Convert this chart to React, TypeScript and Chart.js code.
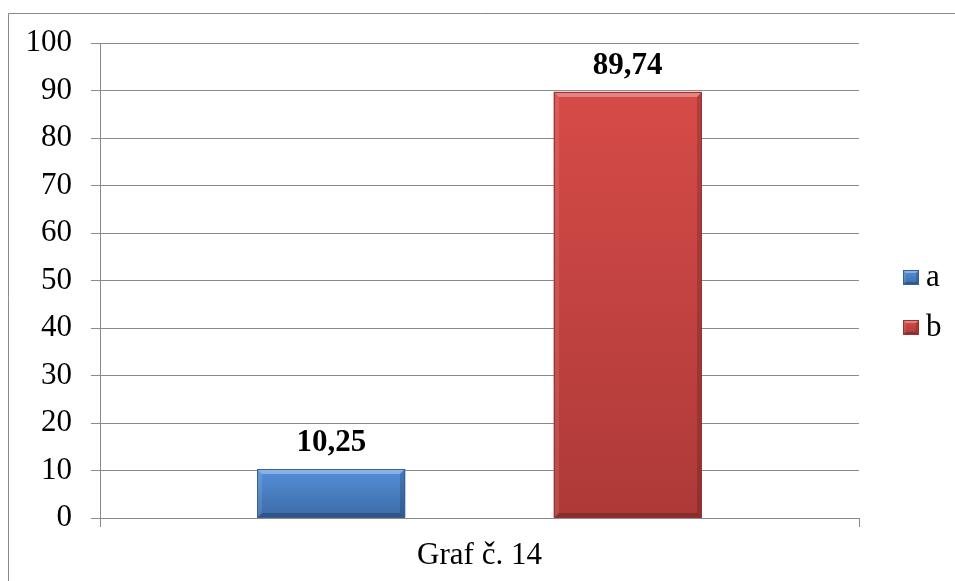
import React, { useEffect, useRef } from 'react';
import { Chart, registerables } from 'chart.js';

Chart.register(...registerables);

const categories = ['Graf č. 14'];
const seriesNames = ['a', 'b'];
const valuesA = [10.25];
const valuesB = [89.74];
const yMin = 0;
const yMax = 100;
const yStep = 10;

const FONT = '"Liberation Serif", "Times New Roman", serif';
const GRID = '#8a8a8a';
const MID = ['#4a7ec4', '#c84543'];
const TOP = ['#5590d8', '#d64b48'];
const BOTTOM = ['#3d6aa8', '#ad3a38'];
const EDGE = ['#35609a', '#9a3331'];

function fmt(v: number) {
  return v.toFixed(2).replace('.', ',');
}

function drawBevelRect(ctx: CanvasRenderingContext2D, l: number, t: number, r: number, b: number, di: number, s: number) {
  const g = ctx.createLinearGradient(0, t, 0, b);
  g.addColorStop(0, TOP[di]);
  g.addColorStop(1, BOTTOM[di]);
  ctx.fillStyle = g;
  ctx.fillRect(l, t, r - l, b - t);
  ctx.fillStyle = 'rgba(255,255,255,0.32)';
  ctx.beginPath();
  ctx.moveTo(l, t); ctx.lineTo(r, t); ctx.lineTo(r - s, t + s); ctx.lineTo(l + s, t + s); ctx.closePath();
  ctx.fill();
  ctx.fillStyle = 'rgba(255,255,255,0.10)';
  ctx.beginPath();
  ctx.moveTo(l, t); ctx.lineTo(l + s, t + s); ctx.lineTo(l + s, b - s); ctx.lineTo(l, b); ctx.closePath();
  ctx.fill();
  ctx.fillStyle = 'rgba(0,0,0,0.16)';
  ctx.beginPath();
  ctx.moveTo(r, t); ctx.lineTo(r, b); ctx.lineTo(r - s, b - s); ctx.lineTo(r - s, t + s); ctx.closePath();
  ctx.fill();
  ctx.fillStyle = 'rgba(0,0,0,0.22)';
  ctx.beginPath();
  ctx.moveTo(l, b); ctx.lineTo(r, b); ctx.lineTo(r - s, b - s); ctx.lineTo(l + s, b - s); ctx.closePath();
  ctx.fill();
  ctx.strokeStyle = EDGE[di];
  ctx.lineWidth = 1;
  ctx.strokeRect(l + 0.5, t + 0.5, r - l - 1, b - t - 1);
}

const framePlugin = {
  id: 'frame',
  beforeDraw(chart: any) {
    const ctx = chart.ctx as CanvasRenderingContext2D;
    ctx.save();
    ctx.fillStyle = '#ffffff';
    ctx.fillRect(0, 0, chart.width, chart.height);
    ctx.strokeStyle = GRID;
    ctx.lineWidth = 1;
    ctx.beginPath();
    ctx.moveTo(8.5, chart.height);
    ctx.lineTo(8.5, 13.5);
    ctx.lineTo(chart.width, 13.5);
    ctx.stroke();
    ctx.restore();
  },
};

const barPlugin = {
  id: 'bevelBars',
  afterDatasetsDraw(chart: any) {
    const ctx = chart.ctx as CanvasRenderingContext2D;
    ctx.save();
    chart.data.datasets.forEach((ds: any, di: number) => {
      const meta = chart.getDatasetMeta(di);
      meta.data.forEach((el: any, i: number) => {
        const { x, y, base, width } = el.getProps(['x', 'y', 'base', 'width'], true);
        const l = Math.round(x - width / 2);
        const r = Math.round(x + width / 2);
        const t = Math.round(Math.min(y, base));
        const b = Math.round(Math.max(y, base));
        drawBevelRect(ctx, l, t, r, b, di, 5);
        ctx.fillStyle = '#000000';
        ctx.font = `bold 31px ${FONT}`;
        ctx.textAlign = 'center';
        ctx.textBaseline = 'alphabetic';
        ctx.fillText(fmt(ds.data[i]), x, t - 18);
      });
    });
    const area = chart.chartArea;
    const lx = area.right + 44;
    const centers = [277.5, 327.5];
    chart.data.datasets.forEach((ds: any, di: number) => {
      const cy = centers[di];
      drawBevelRect(ctx, lx, cy - 7.5, lx + 16, cy + 7.5, di, 3);
      ctx.fillStyle = '#000000';
      ctx.font = `31px ${FONT}`;
      ctx.textAlign = 'left';
      ctx.textBaseline = 'alphabetic';
      ctx.fillText(ds.label, lx + 23, cy + 8);
    });
    ctx.restore();
  },
};

export default function App() {
  const ref = useRef<HTMLCanvasElement | null>(null);
  useEffect(() => {
    if (!ref.current) return;
    const chart = new Chart(ref.current, {
      type: 'bar',
      data: {
        labels: categories,
        datasets: [
          { label: seriesNames[0], data: valuesA, backgroundColor: MID[0], borderWidth: 0, categoryPercentage: 0.781, barPercentage: 0.5 },
          { label: seriesNames[1], data: valuesB, backgroundColor: MID[1], borderWidth: 0, categoryPercentage: 0.781, barPercentage: 0.5 },
        ],
      },
      options: {
        responsive: false,
        animation: false,
        devicePixelRatio: 1,
        layout: { padding: { left: 0, top: 43, right: 96, bottom: 0 } },
        plugins: { legend: { display: false }, tooltip: { enabled: false } },
        scales: {
          x: {
            grid: { display: true, drawOnChartArea: false, drawTicks: true, tickLength: 9, color: GRID, offset: true },
            border: { display: true, color: GRID, width: 1 },
            ticks: { font: { family: FONT, size: 31 }, color: '#000000', padding: 10 },
            afterFit(s: any) { s.height = 63; },
          },
          y: {
            min: yMin,
            max: yMax,
            ticks: { stepSize: yStep, font: { family: FONT, size: 31 }, color: '#000000', padding: 19 },
            grid: { color: GRID, tickLength: 9 },
            border: { display: true, color: GRID, width: 1 },
            afterFit(s: any) { s.width = 100; },
          },
        },
      } as any,
      plugins: [framePlugin, barPlugin],
    });
    return () => chart.destroy();
  }, []);
  return (
    <div style={{ position: 'fixed', left: 0, top: 0, width: 955, height: 581 }}>
      <canvas ref={ref} width={955} height={581} style={{ display: 'block' }} />
    </div>
  );
}
